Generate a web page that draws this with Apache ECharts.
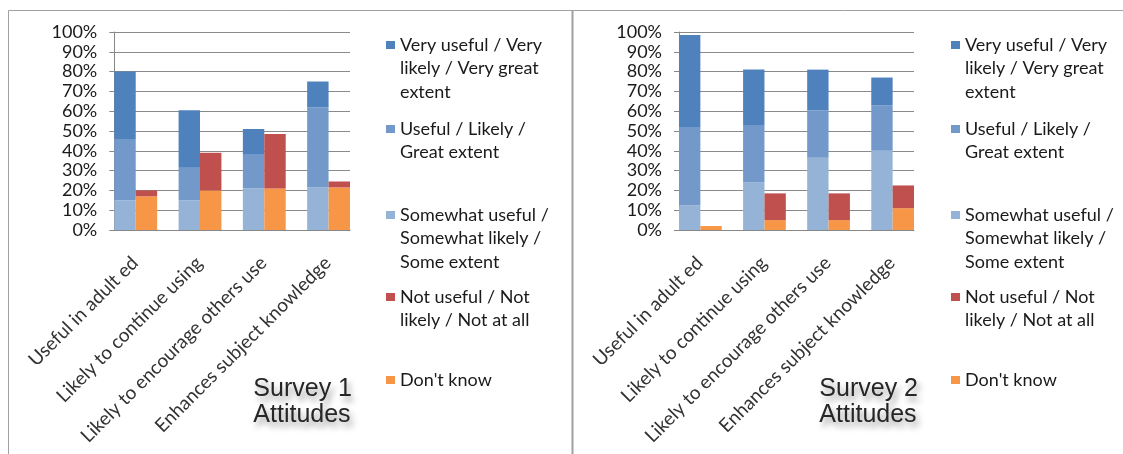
<!DOCTYPE html>
<html>
<head>
<meta charset="utf-8">
<script src="https://cdn.jsdelivr.net/npm/echarts@6/dist/echarts.min.js"></script>
<style>
html,body{margin:0;padding:0;background:#fff;}
#chart{width:1123px;height:454px;}
</style>
</head>
<body>
<div id="chart"></div>
<script>
// ---- data ----
const categories = ["Useful in adult ed", "Likely to continue using", "Likely to encourage others use", "Enhances subject knowledge"];
const seriesNames = [
  "Very useful / Very\nlikely / Very great\nextent",
  "Useful / Likely /\nGreat extent",
  "Somewhat useful /\nSomewhat likely /\nSome extent",
  "Not useful / Not\nlikely / Not at all",
  "Don't know"
];
const panelTitles = ["Survey 1\nAttitudes", "Survey 2\nAttitudes"];

// Survey 1 (percent)
const s1Very      = [34, 29, 13, 13];
const s1Useful    = [31, 16.5, 17, 40.5];
const s1Somewhat  = [15, 15, 21, 21.5];
const s1NotUseful = [3, 19, 27.5, 3];
const s1DontKnow  = [17, 20, 21, 21.5];

// Survey 2 (percent)
const s2Very      = [46.5, 28, 20.5, 14];
const s2Useful    = [39.5, 29, 24, 23];
const s2Somewhat  = [12.5, 24, 36.5, 40];
const s2NotUseful = [0, 13.5, 13.5, 11.5];
const s2DontKnow  = [2, 5, 5, 11];

// ---- styles ----
const colors = {
  very: '#4F81BD', useful: '#7299C9', somewhat: '#95B3D7', notUseful: '#C0504D', dontKnow: '#F79646'
};
const FONT = 'Lato';
const FS = 18;
const LH = 23.5;

// slots: each category -> [blue column, red/orange column, gap]
const nSlots = categories.length * 3 - 1;
const slotLabels = [];
for (let i = 0; i < nSlots; i++) slotLabels.push(i % 3 === 0 ? categories[i / 3] : '');
function toSlots(arr, offset) {
  const out = new Array(nSlots).fill(null);
  arr.forEach((v, i) => { out[i * 3 + offset] = v; });
  return out;
}

const panels = [
  {very: s1Very, useful: s1Useful, somewhat: s1Somewhat, notUseful: s1NotUseful, dontKnow: s1DontKnow,
   gridLeft: 114, gridWidth: 236, legendLeft: 386, titleRight: 771},
  {very: s2Very, useful: s2Useful, somewhat: s2Somewhat, notUseful: s2NotUseful, dontKnow: s2DontKnow,
   gridLeft: 679, gridWidth: 235, legendLeft: 951, titleRight: 205}
];

const grids = [], xAxes = [], yAxes = [], series = [], legends = [], titles = [];
const legendLineCenters = [45, 129, 215, 297, 380];

panels.forEach((p, pi) => {
  grids.push({left: p.gridLeft, top: 32, width: p.gridWidth, height: 198});
  xAxes.push({
    gridIndex: pi, type: 'category', data: slotLabels,
    axisLine: {lineStyle: {color: '#888', width: 1}},
    axisTick: {length: 4, interval: 0, lineStyle: {color: '#888'}},
    axisLabel: {interval: 0, rotate: 45, margin: 20, lineHeight: 28,
                // a blank line first moves the label down-right, under its column
                formatter: (v) => v ? '\u00a0\n' + v : '',
                fontSize: 19, fontFamily: FONT, color: '#333'}
  });
  yAxes.push({
    gridIndex: pi, type: 'value', min: 0, max: 100, interval: 10,
    axisLine: {show: true, lineStyle: {color: '#888', width: 1}},
    axisTick: {show: true, length: 5, lineStyle: {color: '#888'}},
    splitLine: {lineStyle: {color: '#8a8a8a', width: 1}},
    axisLabel: {formatter: '{value}%', margin: 17, fontSize: FS, fontFamily: FONT, color: '#1a1a1a'}
  });
  const mk = (name, data, offset, color) => ({
    name: name, type: 'bar', stack: 'p' + pi, xAxisIndex: pi, yAxisIndex: pi,
    data: toSlots(data, offset), barCategoryGap: '0%', itemStyle: {color: color},
    animation: false
  });
  series.push(mk(seriesNames[2], p.somewhat, 0, colors.somewhat));
  series.push(mk(seriesNames[1], p.useful, 0, colors.useful));
  series.push(mk(seriesNames[0], p.very, 0, colors.very));
  series.push(mk(seriesNames[4], p.dontKnow, 1, colors.dontKnow));
  series.push(mk(seriesNames[3], p.notUseful, 1, colors.notUseful));

  seriesNames.forEach((nm, k) => {
    const n = nm.split('\n').length;
    const H = (2 * n - 1) * LH;
    legends.push({
      data: [nm], left: p.legendLeft, top: legendLineCenters[k] - H / 2, padding: 0,
      orient: 'vertical', itemWidth: 9, itemHeight: 8, icon: 'rect', selectedMode: false,
      // blank lines before the name keep the first line level with the marker
      formatter: (name) => '\u00a0\n'.repeat(n - 1) + name,
      textStyle: {fontSize: FS, fontFamily: FONT, color: '#1a1a1a', lineHeight: LH}
    });
  });

  titles.push({
    text: panelTitles[pi], right: p.titleRight, top: 376, padding: 0,
    textStyle: {fontSize: 25, lineHeight: 26, fontWeight: 'normal', fontFamily: 'Liberation Sans', color: '#262626',
                textShadowColor: 'rgba(0,0,0,0.4)', textShadowBlur: 6, textShadowOffsetX: 3, textShadowOffsetY: 5}
  });
});

const chart = echarts.init(document.getElementById('chart'), null, {renderer: 'canvas'});
chart.setOption({
  backgroundColor: '#fff',
  animation: false,
  title: titles,
  grid: grids,
  xAxis: xAxes,
  yAxis: yAxes,
  legend: legends,
  series: series,
  graphic: [
    {type: 'line', shape: {x1: 8.5, y1: 10.5, x2: 1123, y2: 10.5}, style: {stroke: '#a0a0a0', lineWidth: 1}, silent: true},
    {type: 'line', shape: {x1: 8.5, y1: 10.5, x2: 8.5, y2: 454}, style: {stroke: '#a0a0a0', lineWidth: 1}, silent: true},
    {type: 'line', shape: {x1: 572.5, y1: 10.5, x2: 572.5, y2: 454}, style: {stroke: '#a0a0a0', lineWidth: 2}, silent: true}
  ]
});
</script>
</body>
</html>
